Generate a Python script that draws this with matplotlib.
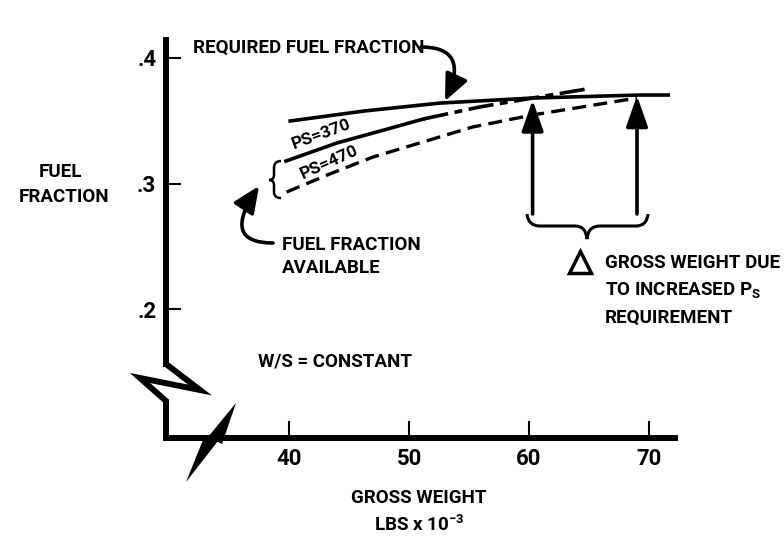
import matplotlib
matplotlib.use("Agg")
import matplotlib.pyplot as plt
from matplotlib.path import Path
from matplotlib.patches import PathPatch, Polygon

plt.rcParams['font.family'] = ['Roboto', 'DejaVu Sans']
plt.rcParams['font.weight'] = 'bold'
plt.rcParams['mathtext.default'] = 'regular'

# Curves (gross weight in 1000 lb, fuel fraction)
req_weight = [40.1, 46.3, 52.6, 60.3, 69.25, 71.6]
req_fraction = [0.3498, 0.3578, 0.3641, 0.3681, 0.3705, 0.3705]

ps370_weight = [39.75, 44.0, 47.6, 51.2, 55.9, 60.3, 64.8]
ps370_fraction = [0.3179, 0.3323, 0.3418, 0.3514, 0.3610, 0.3681, 0.3753]

ps470_weight = [39.8, 43.4, 47.0, 55.3, 60.3, 69.0]
ps470_fraction = [0.2932, 0.3076, 0.3211, 0.3450, 0.3546, 0.3681]

# Where each available curve meets the requirement
cross_weight = [60.3, 69.0]
cross_fraction = [0.3665, 0.3700]
arrow_base = 0.2757

x_ticks = [40, 50, 60, 70]
y_ticks = [0.2, 0.3, 0.4]
y_tick_labels = ['.2', '.3', '.4']


# pixel position on the original sheet -> data coordinates
def px(x, y):
    return 40 + (x - 289) / 12, 0.4 - (y - 58) / 1255


fig = plt.figure(figsize=(7.84, 5.49), dpi=100)
ax = fig.add_axes([0, 0, 1, 1])
ax.set_xlim(px(0, 0)[0], px(784, 0)[0])
ax.set_ylim(px(0, 549)[1], px(0, 0)[1])

# Axes with the broken-axis look
ax.spines['top'].set_visible(False)
ax.spines['right'].set_visible(False)
ax.spines['left'].set_position(('data', px(166, 0)[0]))
ax.spines['bottom'].set_position(('data', px(0, 438)[1]))
ax.spines['left'].set_bounds(px(0, 364)[1], px(0, 40)[1])
ax.spines['bottom'].set_bounds(px(166, 0)[0], px(675, 0)[0])
for s in ['left', 'bottom']:
    ax.spines[s].set_linewidth(4.3)

ax.set_xticks(x_ticks)
ax.set_yticks(y_ticks, y_tick_labels)
ax.tick_params(direction='in', width=1.5, labelsize=16, pad=7)
ax.tick_params(axis='x', length=12)
ax.tick_params(axis='y', length=11)

brk = [px(166, 364), px(200, 390), px(140, 378), px(166, 401), px(166, 441)]
ax.plot([p[0] for p in brk], [p[1] for p in brk], color='k', lw=4.3,
        solid_joinstyle='miter', solid_capstyle='butt')
ax.add_patch(Polygon([px(186, 482), px(205, 435), px(218, 441)], closed=True, color='k', lw=0))
ax.add_patch(Polygon([px(236, 403), px(208, 437), px(222, 444)], closed=True, color='k', lw=0))

# Curves
ax.plot(req_weight, req_fraction, color='k', lw=2.6)
ax.plot(ps370_weight[:4], ps370_fraction[:4], color='k', lw=2.6)
ax.plot(ps370_weight[3:], ps370_fraction[3:], color='k', lw=2.6, dashes=[7, 1.8, 2.2, 1.8])
ax.plot(ps470_weight, ps470_fraction, color='k', lw=2.4, dashes=[4.2, 2.2])

# Arrows up to the crossing points
for xw, yt in zip(cross_weight, cross_fraction):
    ax.annotate('', xy=(xw, yt), xytext=(xw, arrow_base),
                arrowprops=dict(arrowstyle='-|>,head_length=1.0,head_width=0.35',
                                mutation_scale=19, lw=2.6, color='k',
                                shrinkA=0, shrinkB=0))

# Brace under the arrows
brace = [px(527, 214), px(528, 226), px(540, 226), px(575, 226), px(586, 226), px(587, 239),
         px(588, 226), px(600, 226), px(636, 226), px(647, 226), px(648, 214)]
codes = [Path.MOVETO, Path.CURVE3, Path.CURVE3, Path.LINETO, Path.CURVE3, Path.CURVE3,
         Path.CURVE3, Path.CURVE3, Path.LINETO, Path.CURVE3, Path.CURVE3]
ax.add_patch(PathPatch(Path(brace, codes), fill=False, lw=2.2, color='k'))

# Small brace grouping the two available curves
lbrace = [px(281, 161), px(274, 161), px(274, 168), px(274, 175), px(274, 180), px(269, 180),
          px(274, 180), px(274, 185), px(274, 192), px(274, 198), px(281, 198)]
ax.add_patch(PathPatch(Path(lbrace, codes), fill=False, lw=1.8, color='k'))

# Labels
fs = 13.5
ax.text(*px(61, 172), 'FUEL', ha='center', va='center', fontsize=fs)
ax.text(*px(64, 197), 'FRACTION', ha='center', va='center', fontsize=fs)
ax.text(*px(419, 498), 'GROSS WEIGHT', ha='center', va='center', fontsize=fs)
ax.text(*px(419, 525), 'LBS x 10$^{-3}$', ha='center', va='center', fontsize=fs)

ax.text(*px(193, 48), 'REQUIRED FUEL FRACTION', ha='left', va='center', fontsize=fs)
ax.annotate('', xy=px(445, 101), xytext=px(421, 47),
            arrowprops=dict(arrowstyle='-|>,head_length=0.9,head_width=0.4', mutation_scale=18,
                            lw=2.6, color='k', shrinkA=0, shrinkB=0,
                            connectionstyle='angle3,angleA=0,angleB=65'))

ax.text(*px(282, 245), 'FUEL FRACTION', ha='left', va='center', fontsize=fs)
ax.text(*px(282, 268), 'AVAILABLE', ha='left', va='center', fontsize=fs)
ax.annotate('', xy=px(259, 186), xytext=px(273, 243),
            arrowprops=dict(arrowstyle='-|>,head_length=0.9,head_width=0.4', mutation_scale=18,
                            lw=2.6, color='k', shrinkA=0, shrinkB=0,
                            connectionstyle='angle3,angleA=0,angleB=56'))

ax.text(*px(258, 362), 'W/S = CONSTANT', ha='left', va='center', fontsize=fs)

ax.text(*px(321, 134), 'PS=370', ha='center', va='center', fontsize=12.5, rotation=20)
ax.text(*px(329, 162), 'PS=470', ha='center', va='center', fontsize=12.5, rotation=24)

ax.plot(*px(580, 262), marker='^', ms=16, mfc='white', mec='k', mew=2.5)
ax.text(*px(605, 263), 'GROSS WEIGHT DUE', ha='left', va='center', fontsize=fs)
ax.text(*px(605, 290), 'TO INCREASED P$_S$', ha='left', va='center', fontsize=fs)
ax.text(*px(605, 318), 'REQUIREMENT', ha='left', va='center', fontsize=fs)

fig.savefig('out.png', dpi=100)
